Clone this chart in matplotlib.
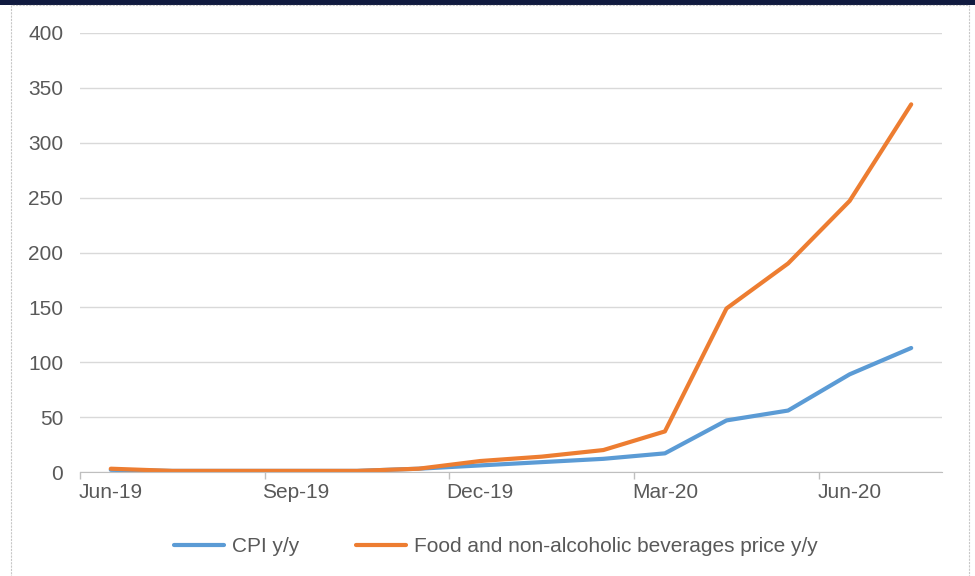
import matplotlib
matplotlib.use("Agg")
import matplotlib.pyplot as plt
import matplotlib.patches as mpatches

# ---------------------------------------------------------------------------
# Data
# ---------------------------------------------------------------------------
months = ["Jun-19", "Jul-19", "Aug-19", "Sep-19", "Oct-19", "Nov-19", "Dec-19",
          "Jan-20", "Feb-20", "Mar-20", "Apr-20", "May-20", "Jun-20", "Jul-20"]
cpi_yy  = [2, 1, 1, 1, 1, 3, 6, 9, 12, 17, 47, 56, 89, 113]
food_yy = [3, 1, 1, 1, 1, 3, 10, 14, 20, 37, 149, 190, 247, 335]
y_ticks = [0, 50, 100, 150, 200, 250, 300, 350, 400]
label_every = 3

BLUE   = "#5b9bd5"
ORANGE = "#ed7d31"
TEXT   = "#595959"
GRID   = "#d9d9d9"
FS     = 15

plt.rcParams["font.family"] = ["Liberation Sans", "DejaVu Sans"]

fig = plt.figure(figsize=(9.75, 5.76), dpi=100)
fig.patch.set_facecolor("white")

# navy strip at the top and the light dashed panel border
fig.add_artist(mpatches.Rectangle((0, 1 - 5 / 576), 1, 5 / 576, transform=fig.transFigure,
                                  facecolor="#101a3f", edgecolor="none"))
fig.add_artist(mpatches.Rectangle((11 / 975, -0.01), 958 / 975, 1 - 5 / 576 + 0.01,
                                  transform=fig.transFigure, facecolor="none",
                                  edgecolor="#c8c8c8", linewidth=0.8, linestyle=(0, (2, 1))))

ax = fig.add_axes([80 / 975, 104 / 576, 862 / 975, 439 / 576])
x = list(range(len(months)))

ax.plot(x, cpi_yy, color=BLUE, linewidth=3, solid_capstyle="round",
        solid_joinstyle="round", label="CPI y/y")
ax.plot(x, food_yy, color=ORANGE, linewidth=3, solid_capstyle="round",
        solid_joinstyle="round", label="Food and non-alcoholic beverages price y/y")

ax.set_xlim(-0.5, len(months) - 0.5)
ax.set_ylim(0, 400)
ax.set_yticks(y_ticks)
ax.yaxis.grid(True, color=GRID, linewidth=1)
ax.set_axisbelow(True)

# ticks at category boundaries, labels centred on the category
ax.set_xticks([i - 0.5 for i in range(0, len(months), label_every)])
ax.set_xticklabels([])
ax.set_xticks(list(range(0, len(months), label_every)), minor=True)
ax.set_xticklabels(months[::label_every], minor=True)
ax.tick_params(axis="x", which="major", length=5, color="#bfbfbf", width=1)
ax.tick_params(axis="x", which="minor", length=0, pad=8, labelsize=FS, labelcolor=TEXT)
ax.tick_params(axis="y", length=0, pad=12, labelsize=FS, labelcolor=TEXT)

for side in ["top", "right", "left"]:
    ax.spines[side].set_visible(False)
ax.spines["bottom"].set_color("#bfbfbf")

fig.legend(loc="center", bbox_to_anchor=(496 / 975, 1 - 547 / 576), ncol=2,
           frameon=False, fontsize=FS, handlelength=2.4, columnspacing=2.7,
           handletextpad=0.4, labelcolor=TEXT)

fig.savefig("out.png", dpi=100, facecolor="white")
